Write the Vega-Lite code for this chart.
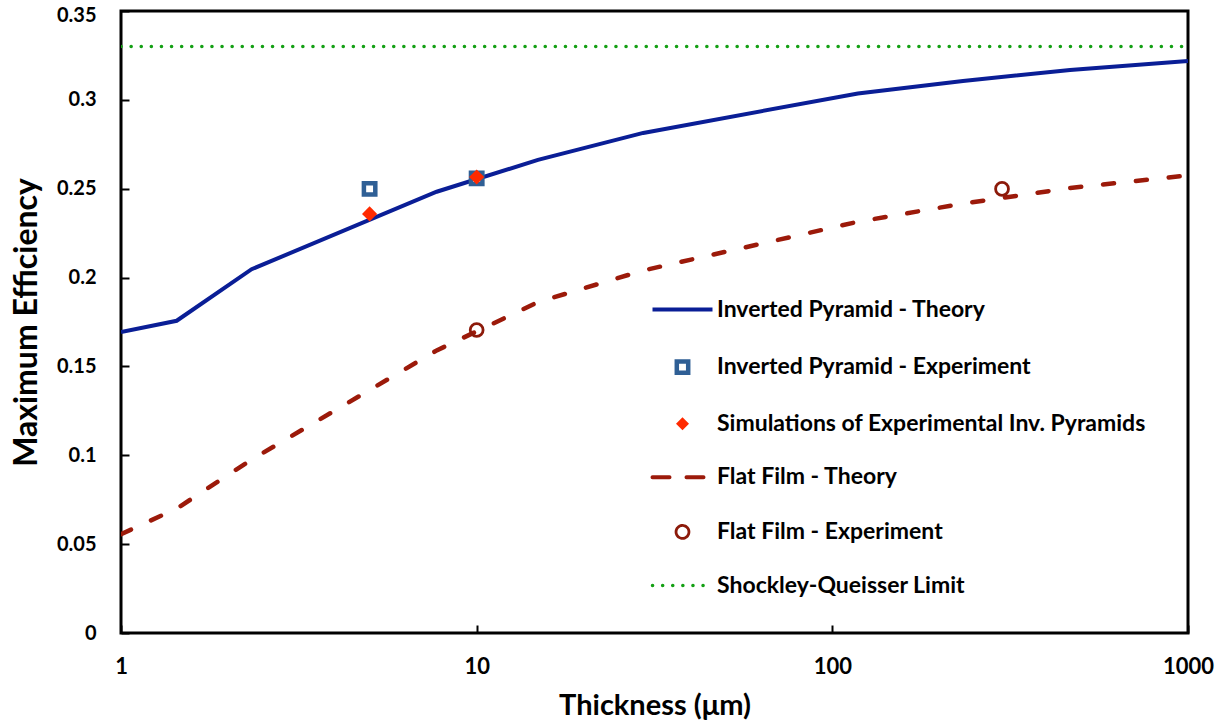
{
  "$schema": "https://vega.github.io/schema/vega-lite/v6.json",
  "width": 1067,
  "height": 622,
  "autosize": {"type": "none"},
  "padding": {"left": 121, "top": 11, "right": 28, "bottom": 90},
  "background": "white",
  "config": {
    "view": {"stroke": "black", "strokeWidth": 3},
    "font": "Lato",
    "axis": {"grid": false, "domain": false, "labelFont": "Lato", "labelFontWeight": "bold", "labelColor": "black", "titleFont": "Lato", "titleFontWeight": "bold", "titleColor": "black", "tickColor": "black", "tickWidth": 2, "tickSize": -8}
  },
  "data": {
    "values": [
      {"series": "Inverted Pyramid - Theory", "t": 1, "eff": 0.1694},
      {"series": "Inverted Pyramid - Theory", "t": 1.434, "eff": 0.1757},
      {"series": "Inverted Pyramid - Theory", "t": 2.33, "eff": 0.2047},
      {"series": "Inverted Pyramid - Theory", "t": 7.72, "eff": 0.2483},
      {"series": "Inverted Pyramid - Theory", "t": 14.87, "eff": 0.2662},
      {"series": "Inverted Pyramid - Theory", "t": 29.4, "eff": 0.2814},
      {"series": "Inverted Pyramid - Theory", "t": 118, "eff": 0.3036},
      {"series": "Inverted Pyramid - Theory", "t": 233, "eff": 0.3106},
      {"series": "Inverted Pyramid - Theory", "t": 466, "eff": 0.3168},
      {"series": "Inverted Pyramid - Theory", "t": 1000, "eff": 0.3219},
      {"series": "Flat Film - Theory", "t": 1, "eff": 0.0556},
      {"series": "Flat Film - Theory", "t": 1.434, "eff": 0.0700},
      {"series": "Flat Film - Theory", "t": 2.33, "eff": 0.0976},
      {"series": "Flat Film - Theory", "t": 7.72, "eff": 0.1590},
      {"series": "Flat Film - Theory", "t": 14.87, "eff": 0.1862},
      {"series": "Flat Film - Theory", "t": 29.4, "eff": 0.2040},
      {"series": "Flat Film - Theory", "t": 118, "eff": 0.2314},
      {"series": "Flat Film - Theory", "t": 233, "eff": 0.2416},
      {"series": "Flat Film - Theory", "t": 466, "eff": 0.2504},
      {"series": "Flat Film - Theory", "t": 1000, "eff": 0.2575},
      {"series": "Shockley-Queisser Limit", "t": 1, "eff": 0.33},
      {"series": "Shockley-Queisser Limit", "t": 1000, "eff": 0.33},
      {"series": "Inverted Pyramid - Experiment", "t": 5, "eff": 0.2499},
      {"series": "Inverted Pyramid - Experiment", "t": 10, "eff": 0.2558},
      {"series": "Simulations of Experimental Inv. Pyramids", "t": 5, "eff": 0.2358},
      {"series": "Simulations of Experimental Inv. Pyramids", "t": 10, "eff": 0.2566},
      {"series": "Flat Film - Experiment", "t": 10, "eff": 0.1705},
      {"series": "Flat Film - Experiment", "t": 300, "eff": 0.2499}
    ]
  },
  "encoding": {
    "x": {"field": "t", "type": "quantitative", "scale": {"type": "log", "domain": [1, 1000]},
      "axis": {"values": [1, 10, 100, 1000], "format": "~g", "labelFontSize": 22, "labelPadding": 31, "labelFlush": false, "title": "Thickness (μm)", "titleFontSize": 29, "titlePadding": 14}},
    "y": {"field": "eff", "type": "quantitative", "scale": {"domain": [0, 0.35], "nice": false, "zero": true},
      "axis": {"values": [0, 0.05, 0.1, 0.15, 0.2, 0.25, 0.3, 0.35], "format": "~g", "labelFontSize": 20, "labelPadding": 33,
        "labelOffset": {"condition": {"test": "datum.value > 0.34", "value": 4}, "value": 0},
        "title": "Maximum Efficiency", "titleFontSize": 32, "titlePadding": 13}},
    "color": {"field": "series", "type": "nominal",
      "scale": {"domain": ["Inverted Pyramid - Theory", "Inverted Pyramid - Experiment", "Simulations of Experimental Inv. Pyramids", "Flat Film - Theory", "Flat Film - Experiment", "Shockley-Queisser Limit"],
        "range": ["#0a1e96", "#2f5f95", "#ff2a00", "#9c1a0a", "#8c1a0a", "#14a014"]},
      "legend": {
        "title": null, "orient": "none", "legendX": 530, "legendY": 287, "padding": 0,
        "symbolSize": 3600, "symbolStrokeWidth": 4, "rowPadding": 29.6, "symbolOffset": 20, "labelOffset": 23,
        "labelFont": "Lato", "labelFontWeight": "bold", "labelFontSize": 23, "labelColor": "black", "labelLimit": 800,
        "encode": {"symbols": {"update": {
          "shape": {"signal": "datum.value === 'Inverted Pyramid - Experiment' ? 'M-0.19,-0.19H0.19V0.19H-0.19Z' : datum.value === 'Simulations of Experimental Inv. Pyramids' ? 'M-0.2167,0L0,-0.2167L0.2167,0L0,0.2167Z' : datum.value === 'Flat Film - Experiment' ? 'M-0.215,0A0.215,0.215,0,1,0,0.215,0A0.215,0.215,0,1,0,-0.215,0Z' : 'M-1,0H1'"},
          "size": {"value": 3600},
          "fill": {"signal": "datum.value === 'Inverted Pyramid - Experiment' ? 'white' : datum.value === 'Simulations of Experimental Inv. Pyramids' ? '#ff2a00' : 'transparent'"},
          "fillOpacity": {"value": 1},
          "strokeWidth": {"signal": "datum.value === 'Inverted Pyramid - Experiment' ? 4.5 : datum.value === 'Simulations of Experimental Inv. Pyramids' ? 0 : datum.value === 'Flat Film - Experiment' ? 2.8 : datum.value === 'Shockley-Queisser Limit' ? 3.5 : 4"},
          "strokeDash": {"signal": "datum.value === 'Flat Film - Theory' ? [17, 17] : datum.value === 'Shockley-Queisser Limit' ? [0.1, 10] : [1, 0]"},
          "strokeCap": {"signal": "datum.value === 'Flat Film - Theory' || datum.value === 'Shockley-Queisser Limit' ? 'round' : 'butt'"},
          "opacity": {"value": 1}
        }}}
      }
    }
  },
  "layer": [
    {"transform": [{"filter": "datum.series === 'Inverted Pyramid - Theory'"}],
     "mark": {"type": "line", "strokeWidth": 4, "clip": true}},
    {"transform": [{"filter": "datum.series === 'Flat Film - Theory'"}],
     "mark": {"type": "line", "strokeWidth": 4.5, "strokeDash": [11, 22], "strokeCap": "round", "clip": true}},
    {"transform": [{"filter": "datum.series === 'Shockley-Queisser Limit'"}],
     "mark": {"type": "line", "strokeWidth": 3.5, "strokeDash": [0.1, 10], "strokeCap": "round", "clip": true}},
    {"transform": [{"filter": "datum.series === 'Inverted Pyramid - Experiment'"}],
     "mark": {"type": "point", "shape": "square", "size": 130, "filled": false, "fill": "white", "fillOpacity": 1, "strokeWidth": 4.5, "opacity": 1}},
    {"transform": [{"filter": "datum.series === 'Simulations of Experimental Inv. Pyramids'"}],
     "mark": {"type": "point", "shape": "diamond", "size": 230, "filled": false, "fill": "#ff2a00", "fillOpacity": 1, "strokeWidth": 0, "opacity": 1}},
    {"transform": [{"filter": "datum.series === 'Flat Film - Experiment'"}],
     "mark": {"type": "point", "shape": "circle", "size": 165, "filled": false, "strokeWidth": 2.8, "opacity": 1}}
  ]
}
